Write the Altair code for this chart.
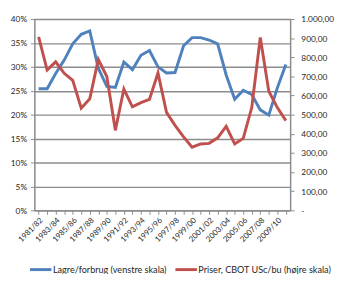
import altair as alt
import pandas as pd

categories = [f"{y}/{str(y+1)[-2:]}" for y in range(1981, 2011)]
lagre = [25.4, 25.4, 28.6, 31.4, 34.8, 36.8, 37.5, 29.7, 25.9, 25.7,
         31.0, 29.4, 32.4, 33.4, 30.0, 28.7, 28.8, 34.4, 36.1, 36.1,
         35.6, 34.8, 28.3, 23.2, 25.1, 24.2, 21.0, 19.9, 25.6, 30.5]
priser = [907, 733, 776, 716, 679, 534, 583, 789, 699, 418,
          634, 541, 563, 580, 718, 512, 444, 384, 330, 347,
          350, 379, 439, 347, 376, 537, 903, 622, 537, 469]

LAB1 = "Lagre/forbrug (venstre skala)"
LAB2 = "Priser, CBOT USc/bu  (højre skala)"

df = pd.DataFrame({"cat": categories, "lagre": [v / 100 for v in lagre], "pris": priser})

FONT = "Lato"
GRID = "#8c8c8c"
TXT = "#262626"

xenc = alt.X("cat:N", sort=categories, title=None,
             scale=alt.Scale(paddingInner=0, paddingOuter=0),
             axis=alt.Axis(labelAngle=315, labelAlign="right", labelBaseline="top",
                           labelFontSize=8, labelFont=FONT, labelColor=TXT,
                           labelExpr="toNumber(substring(datum.value,0,4)) % 2 == 1 ? datum.value : ''",
                           labelPadding=2, tickSize=4, tickColor=GRID, domainColor=GRID,
                           domainWidth=1.5, labelOverlap=False, grid=False))

color_scale = alt.Scale(domain=[LAB1, LAB2], range=["#4F81BD", "#C0504D"])

blue = alt.Chart(df).mark_line(strokeWidth=3).encode(
    x=xenc,
    y=alt.Y("lagre:Q", title=None,
            scale=alt.Scale(domain=[0, 0.4], nice=False),
            axis=alt.Axis(values=[i * 0.05 for i in range(9)], format=".0%",
                          labelFont=FONT, labelFontSize=8.5, labelColor=TXT,
                          grid=True, gridColor=GRID, gridWidth=1.5,
                          domainColor=GRID, domainWidth=1.5, tickColor=GRID,
                          tickSize=4, labelPadding=4)),
    color=alt.Color("s:N", scale=color_scale, title=None,
                    legend=alt.Legend(orient="none", legendX=-6, legendY=244,
                                      direction="horizontal", symbolType="stroke",
                                      symbolStrokeWidth=3, symbolSize=484,
                                      symbolOpacity=1,
                                      labelFont=FONT, labelFontSize=9.3, labelColor=TXT,
                                      columnPadding=2, labelOffset=0)),
).transform_calculate(s=f"'{LAB1}'")

red = alt.Chart(df).mark_line(strokeWidth=3).encode(
    x=xenc,
    y=alt.Y("pris:Q", title=None,
            scale=alt.Scale(domain=[0, 1000], nice=False),
            axis=alt.Axis(orient="right", values=[i * 100 for i in range(11)],
                          labelExpr="datum.value == 0 ? '-' : (datum.value >= 1000 ? '1.000,00' : replace(format(datum.value, '.2f'), '.', ','))",
                          labelFont=FONT, labelFontSize=8.5, labelColor=TXT,
                          grid=False, domainColor=GRID, domainWidth=1.5,
                          tickColor=GRID, tickSize=4, labelPadding=7)),
    color=alt.Color("s:N", scale=color_scale, title=None),
).transform_calculate(s=f"'{LAB2}'")

chart = alt.layer(blue, red).resolve_scale(y="independent").properties(
    width=262, height=196,
    autosize=alt.AutoSizeParams(type="none"),
    padding={"left": 27, "top": 8, "right": 47, "bottom": 62},
).configure_view(stroke=None).configure(background="white")

chart.save("out.html", embed_options={"renderer": "svg", "actions": False})
